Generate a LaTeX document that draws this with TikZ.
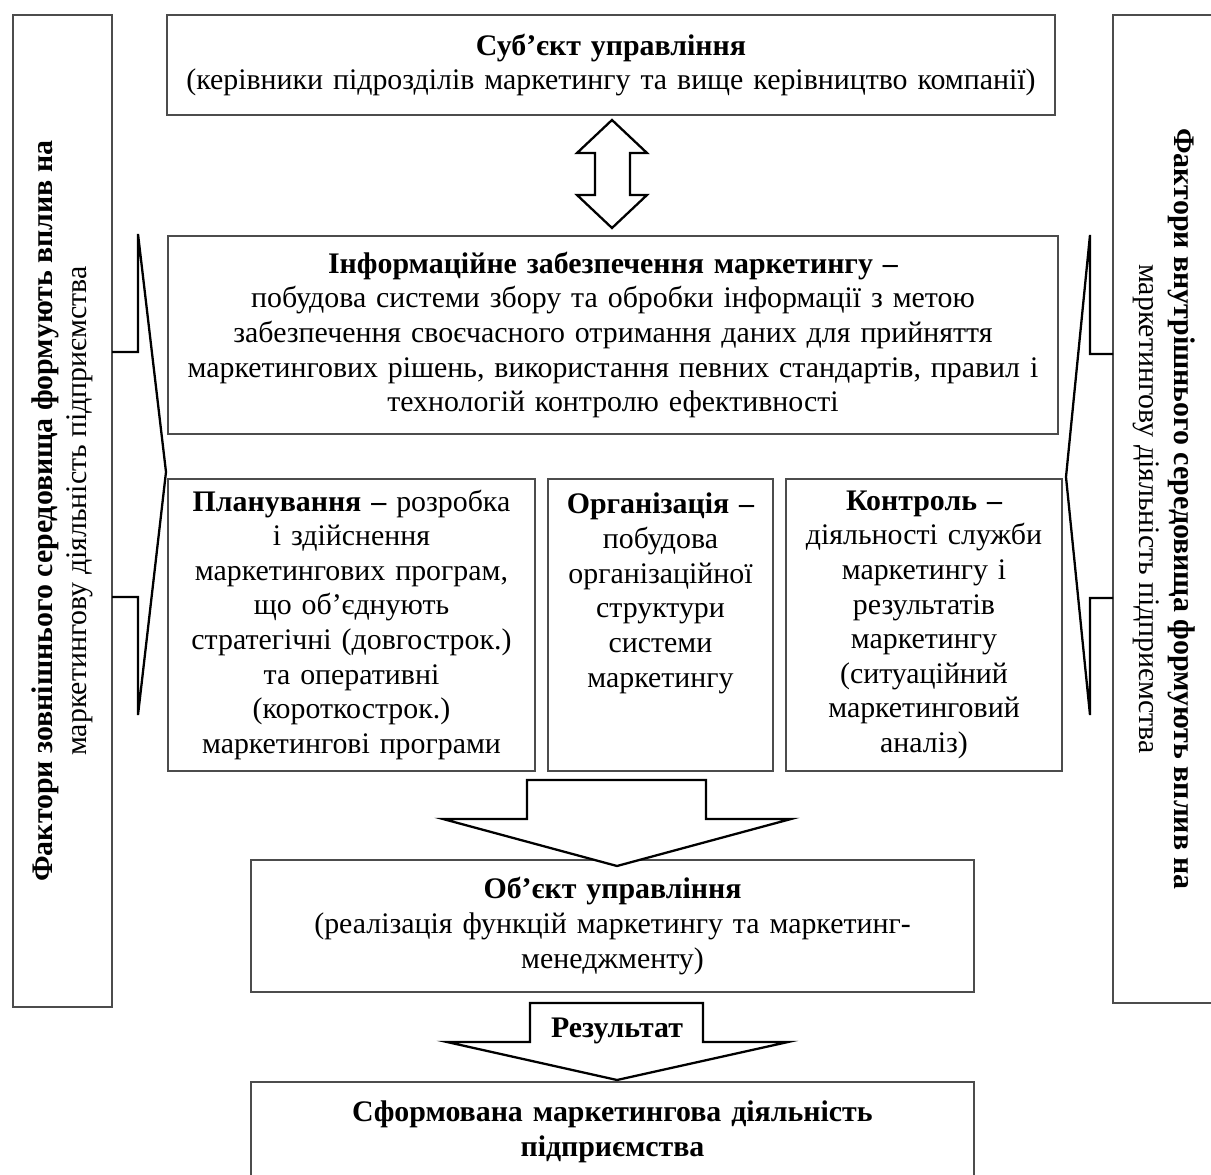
\documentclass[tikz,border=0pt]{standalone}
\usepackage{fontspec}
\setmainfont{Liberation Serif}
\usetikzlibrary{positioning, calc}

\begin{document}
\begin{tikzpicture}[x=0.02cm, y=-0.02cm,
    box/.style={draw=black!70, line width=0.9pt, align=center, inner sep=2pt,
        font=\fontsize{17}{19.7}\selectfont},
    colbox/.style={box, anchor=north, minimum height=5.84cm},
    blockarrow/.style={draw=black, line width=1.3pt, line join=miter, fill=white}]
    \useasboundingbox (0,0) rectangle (1211,1175);

    % Бічні блоки: зовнішнє та внутрішнє середовище
    \node[box, rotate=90, minimum width=19.84cm, minimum height=1.98cm] (extenv) at (62.5,511)
        {\textbf{Фактори зовнішнього середовища формують вплив на}\\маркетингову діяльність підприємства};
    \node[box, rotate=-90, minimum width=19.76cm, minimum height=2.04cm] (intenv) at (1164,509)
        {\textbf{Фактори внутрішнього середовища формують вплив на}\\маркетингову діяльність підприємства};

    % Суб'єкт управління
    \node[box, minimum width=17.76cm, minimum height=2cm, text width=17.4cm] (subject) at (611,65)
        {\textbf{Суб’єкт управління}\\(керівники підрозділів маркетингу та вище керівництво компанії)};

    % Інформаційне забезпечення
    \node[box, minimum width=17.8cm, minimum height=3.96cm, text width=17.4cm] (info) at (613,335)
        {\textbf{Інформаційне забезпечення маркетингу –}\\
        побудова системи збору та обробки інформації з метою\\
        забезпечення своєчасного отримання даних для прийняття\\
        маркетингових рішень, використання певних стандартів, правил і\\
        технологій контролю ефективності};

    % Функції: планування, організація, контроль
    \node[colbox, minimum width=7.34cm, text width=7.1cm] (plan) at (351.5,478)
        {\textbf{Планування –} розробка\\ і здійснення\\ маркетингових програм,\\ що об’єднують\\
        стратегічні (довгострок.)\\ та оперативні\\ (короткострок.)\\ маркетингові програми};
    \node[colbox, minimum width=4.5cm, text width=4.3cm] (organize) at (660.5,478)
        {\textbf{Організація –}\\ побудова\\ організаційної\\ структури\\ системи\\ маркетингу\\ \mbox{}\\ \mbox{}};
    \node[colbox, minimum width=5.52cm, text width=5.3cm] (control) at (924,478)
        {\textbf{Контроль –}\\ діяльності служби\\ маркетингу і\\ результатів\\ маркетингу\\
        (ситуаційний\\ маркетинговий\\ аналіз)};

    % Об'єкт управління
    \node[box, minimum width=14.46cm, minimum height=2.64cm, text width=14cm] (object) at (612.5,926)
        {\textbf{Об’єкт управління}\\(реалізація функцій маркетингу та маркетинг-\\менеджменту)};

    % Результат
    \node[box, minimum width=14.46cm, minimum height=2cm, text width=14cm] (result) at (612.5,1132)
        {\textbf{Сформована маркетингова діяльність}\\\textbf{підприємства}};

    % Блокові стрілки
    \draw[blockarrow] (612,120) -- (647,153) -- (630,153) -- (630,195) -- (647,195) -- (612,228)
        -- (577,195) -- (595,195) -- (595,153) -- (577,153) -- cycle;
    \draw[blockarrow, fill=none] (112,352) -- (138,352) -- (138,234) -- (166,472) -- (138,715)
        -- (138,597) -- (112,597);
    \draw[blockarrow, fill=none] (1113,354) -- (1090,354) -- (1090,235) -- (1066,477) -- (1090,715)
        -- (1090,598) -- (1113,598);
    \draw[blockarrow] (527,780) -- (706,780) -- (706,819) -- (791,819) -- (617,866) -- (443,819)
        -- (527,819) -- cycle;
    \draw[blockarrow] (530,1003) -- (703,1003) -- (703,1042) -- (788,1042) -- (617,1080) -- (447,1042)
        -- (530,1042) -- cycle;
    \node[font=\fontsize{17}{19.7}\selectfont\bfseries] (reslabel) at (617,1031) {Результат};

\end{tikzpicture}
\end{document}
